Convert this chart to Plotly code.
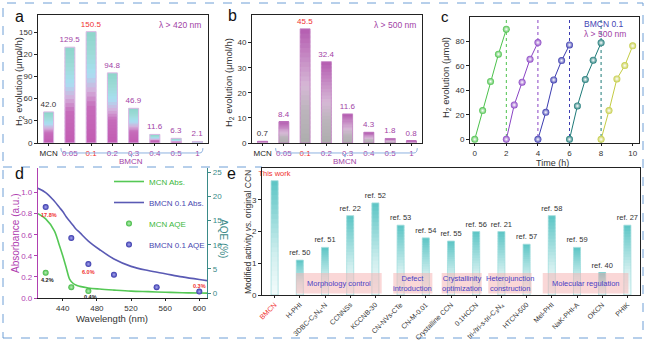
import plotly.graph_objects as go

W, H = 647, 342

# ---------------- data ----------------
cat_ab = ["MCN", "0.05", "0.1", "0.2", "0.3", "0.4", "0.5", "1"]
h2_420 = [42.0, 129.5, 150.5, 94.8, 46.9, 11.6, 6.3, 2.1]
h2_500 = [0.7, 8.4, 45.5, 32.4, 11.6, 4.3, 1.8, 0.8]

cyc_t = [[0, 0.5, 1, 1.5, 2], [2, 2.5, 3, 3.5, 4], [4, 4.5, 5, 5.5, 6],
         [6, 6.5, 7, 7.5, 8], [8, 8.5, 9, 9.5, 10]]
cyc_h2 = [[0, 23.5, 47.3, 69.6, 90.0], [0, 28.1, 46.7, 65.5, 79.1],
          [0, 22.1, 48.6, 64.4, 77.2], [0, 27.3, 48.9, 64.7, 78.9],
          [0, 23.5, 49.4, 60.3, 76.4]]
cyc_colors = ["#4cc24c", "#8a44c4", "#3c3cb0", "#1e7a78", "#c4cc44"]
cyc_ends = [2, 4, 6, 8]

wl_abs = [411, 420, 430, 436, 440, 444, 448, 452, 456, 460, 470, 483, 500, 520, 540, 560, 580, 600, 609]
abs_mcn = [0.80, 0.75, 0.64, 0.50, 0.40, 0.29, 0.18, 0.14, 0.12, 0.11, 0.095, 0.085, 0.075, 0.065, 0.060, 0.055, 0.050, 0.047, 0.046]
abs_bmcn = [1.04, 1.00, 0.92, 0.86, 0.82, 0.77, 0.73, 0.69, 0.65, 0.62, 0.54, 0.46, 0.37, 0.30, 0.26, 0.23, 0.20, 0.175, 0.165]

wl_aqe_mcn = [420, 450, 470]
aqe_mcn = [4.2, 1.2, 0.4]
wl_aqe_bmcn = [420, 450, 470, 500, 550, 600]
aqe_bmcn = [17.8, 11.4, 6.0, 3.8, 1.2, 0.3]

cat_e = ["BMCN", "H-PHI", "3DBC-C<sub>3</sub>N<sub>4</sub>-N", "CCNNSs", "KCCNB-30",
         "CN-NVs-CTe", "CN-M-0.01", "Crystalline CCN", "0.1HCCN",
         "tri-/tri-s-tri-C<sub>3</sub>N<sub>4</sub>", "HTCN-500", "Mel-PHI",
         "NaK-PHI-A", "OKCN", "PHIK"]
act_e = [3.6, 1.1, 1.5, 2.5, 2.9, 2.2, 1.8, 1.7, 2.0, 2.0, 1.6, 2.5, 1.5, 0.7, 2.2]
ref_e = ["This work", "ref. 50", "ref. 51", "ref. 22", "ref. 52", "ref. 53", "ref. 54",
         "ref. 55", "ref. 56", "ref. 21", "ref. 57", "ref. 58", "ref. 59", "ref. 40", "ref. 27"]
groups_e = [("Morphology control", 0.85, 4.25), ("Defect<br>introduction", 4.71, 6.26),
            ("Crystallinity<br>optimization", 6.63, 8.22), ("Heterojunction<br>construction", 8.48, 10.2),
            ("Molecular regulation", 10.64, 14.04)]

# ---------------- helpers ----------------
FONT = "Arial, Liberation Sans, sans-serif"
PURPLE = "#a23fa6"
RED = "#f03030"
DARK = "#333333"


def px_x(p):
    return p / W


def px_y(p):
    return 1 - p / H


def hex2rgb(h):
    h = h.lstrip("#")
    return tuple(int(h[i:i + 2], 16) for i in (0, 2, 4))


def grad_color(stops, t):
    for (t0, c0), (t1, c1) in zip(stops[:-1], stops[1:]):
        if t0 <= t <= t1:
            f = (t - t0) / (t1 - t0) if t1 > t0 else 0
            a, b = hex2rgb(c0), hex2rgb(c1)
            return "rgb(%d,%d,%d)" % tuple(round(a[i] + (b[i] - a[i]) * f) for i in range(3))
    return stops[-1][1]


NSEG = 24


def gradient_bars(fig, cats, vals, stops, xa, ya, width):
    for i in range(NSEG):
        t = (i + 0.5) / NSEG
        fig.add_trace(go.Bar(
            x=cats, y=[v / NSEG * 1.6 if i < NSEG - 1 else v / NSEG for v in vals],
            base=[v * i / NSEG for v in vals], width=width,
            marker=dict(color=grad_color(stops, t), line=dict(width=0)),
            xaxis=xa, yaxis=ya, showlegend=False, hoverinfo="skip"))


fig = go.Figure()

# ---------------- panel a ----------------
stops_a = [(0, "#c25cb2"), (0.33, "#c66cba"), (0.47, "#d4b0dc"), (0.62, "#a8dff2"),
           (0.8, "#9edbd8"), (1, "#8dd5cb")]
gradient_bars(fig, cat_ab, h2_420, stops_a, "x", "y", 0.47)
col_a = [DARK] + [PURPLE] * 7
col_a[2] = RED
fig.add_trace(go.Bar(x=cat_ab, y=h2_420, width=0.47, text=["%.1f" % v for v in h2_420],
                     textposition="outside", constraintext="none", cliponaxis=False,
                     textfont=dict(size=8, color=col_a, family=FONT),
                     marker=dict(color="rgba(0,0,0,0)", line=dict(color="#dcb8e4", width=1)),
                     xaxis="x", yaxis="y", showlegend=False))

# ---------------- panel b ----------------
stops_b = [(0, "#adadad"), (0.3, "#bdb5bd"), (0.5, "#d6b8d6"), (0.75, "#c68ac4"), (1, "#b45cb0")]
gradient_bars(fig, cat_ab, h2_500, stops_b, "x2", "y2", 0.47)
col_b = [DARK] + [PURPLE] * 7
col_b[2] = RED
fig.add_trace(go.Bar(x=cat_ab, y=h2_500, width=0.47, text=["%.1f" % v for v in h2_500],
                     textposition="outside", constraintext="none", cliponaxis=False,
                     textfont=dict(size=8, color=col_b, family=FONT),
                     marker=dict(color="rgba(0,0,0,0)", line=dict(color="#c483c4", width=0.8)),
                     xaxis="x2", yaxis="y2", showlegend=False))

tick_ab = ["<span style='color:#222'>MCN</span>"] + [
    "<span style='color:%s'>%s</span>" % (RED if c == "0.1" else PURPLE, c) for c in cat_ab[1:]]

# ---------------- panel c ----------------
for t, h, c in zip(cyc_t, cyc_h2, cyc_colors):
    fig.add_trace(go.Scatter(x=t, y=h, mode="lines+markers",
                             line=dict(color=c, width=1),
                             marker=dict(size=7, color=c, gradient=dict(type="radial", color="#ffffff"),
                                         line=dict(width=0)),
                             xaxis="x3", yaxis="y3", showlegend=False, cliponaxis=False))

# ---------------- panel d ----------------
fig.add_trace(go.Scatter(x=wl_abs, y=abs_mcn, mode="lines", line=dict(color="#55c855", width=1.6, shape="spline"),
                         name="<span style='color:#3cb83c'>MCN Abs.</span>", legendgroup="g1",
                         xaxis="x4", yaxis="y4"))
fig.add_trace(go.Scatter(x=wl_abs, y=abs_bmcn, mode="lines", line=dict(color="#5a5ab4", width=1.6, shape="spline"),
                         name="<span style='color:#4848b0'>BMCN 0.1 Abs.</span>", legendgroup="g2",
                         xaxis="x4", yaxis="y4"))
fig.add_trace(go.Scatter(x=wl_aqe_mcn, y=aqe_mcn, mode="markers",
                         marker=dict(size=6, color="#40b840", gradient=dict(type="radial", color="#b8f0b8")),
                         name="<span style='color:#3cb83c'>MCN AQE</span>", legendgroup="g3",
                         xaxis="x4", yaxis="y5", cliponaxis=False))
fig.add_trace(go.Scatter(x=wl_aqe_bmcn, y=aqe_bmcn, mode="markers",
                         marker=dict(size=6, color="#3434a8", gradient=dict(type="radial", color="#a8a8f0")),
                         name="<span style='color:#4848b0'>BMCN 0.1 AQE</span>", legendgroup="g4",
                         xaxis="x4", yaxis="y5", cliponaxis=False))

# ---------------- panel e ----------------
stops_e = [(0, "#f4fcfc"), (0.35, "#d2efef"), (1, "#5cc5c5")]
gradient_bars(fig, cat_e, act_e, stops_e, "x5", "y6", 0.28)
fig.add_trace(go.Bar(x=cat_e, y=act_e, width=0.28, text=ref_e,
                     textposition="outside", constraintext="none", cliponaxis=False,
                     textfont=dict(size=7.5, color=[RED] + [DARK] * 14, family=FONT),
                     marker=dict(color="rgba(0,0,0,0)", line=dict(color="#a6dede", width=0.8)),
                     xaxis="x5", yaxis="y6", showlegend=False))
tick_e = ["<span style='color:%s'>BMCN</span>" % RED] + cat_e[1:]

# ---------------- layout ----------------
dom_a = [px_x(38), px_x(208)]
dom_b = [px_x(252), px_x(422)]
dom_c = [px_x(470), px_x(639)]
dom_d = [px_x(38), px_x(207)]
dom_e = [px_x(262), px_x(640)]
ytop = [px_y(143), px_y(15)]
ytopc = [px_y(143), px_y(17)]
ybotd = [px_y(298), px_y(168)]
ybote = [px_y(295), px_y(168)]

axfont = dict(size=8, color=DARK, family=FONT)
common = dict(showline=True, linecolor="#222", linewidth=1, ticks="outside",
              tickcolor="#222", tickfont=axfont, showgrid=False, zeroline=False, automargin=False)

fig.update_layout(
    width=W, height=H, margin=dict(l=0, r=0, t=0, b=0, autoexpand=False),
    paper_bgcolor="white", plot_bgcolor="white", barmode="overlay",
    font=dict(family=FONT, size=8, color=DARK),
    xaxis=dict(domain=dom_a, anchor="y", type="category", tickvals=cat_ab, ticktext=tick_ab,
               mirror=True, ticklen=2, **common),
    yaxis=dict(domain=ytop, anchor="x", range=[0, 173], tickvals=[0, 30, 60, 90, 120, 150],
               mirror=True, ticklen=3, **common),
    xaxis2=dict(domain=dom_b, anchor="y2", type="category", tickvals=cat_ab, ticktext=tick_ab,
                mirror=True, ticklen=2, **common),
    yaxis2=dict(domain=ytop, anchor="x2", range=[0, 51], tickvals=[0, 10, 20, 30, 40],
                mirror=True, ticklen=3, **common),
    xaxis3=dict(domain=dom_c, anchor="y3", range=[-0.3, 10.4], tickvals=[0, 2, 4, 6, 8, 10],
                mirror=True, ticklen=2, **common),
    yaxis3=dict(domain=ytopc, anchor="x3", range=[-3, 100], tickvals=[0, 20, 40, 60, 80],
                mirror=True, ticklen=3, **common),
    xaxis4=dict(domain=dom_d, anchor="y4", range=[411, 609], tickvals=[440, 480, 520, 560, 600],
                ticklen=2, **common),
    yaxis4=dict(domain=ybotd, anchor="x4", range=[0, 1.233], tickvals=[0, 0.2, 0.4, 0.6, 0.8, 1.0],
                tickformat=".1f", showline=True, linecolor="#b040b0", linewidth=1.2, ticks="outside",
                ticklen=3, tickcolor="#b040b0", tickfont=dict(size=8, color="#b040b0", family=FONT),
                showgrid=False, zeroline=False, automargin=False),
    yaxis5=dict(anchor="x4", overlaying="y4", side="right", range=[-1.03, 25.9],
                tickvals=[0, 5, 10, 15, 20, 25], showline=True, linecolor="#3a8a88", linewidth=1.2,
                ticks="outside", ticklen=3, tickcolor="#3a8a88", automargin=False,
                tickfont=dict(size=8, color="#3a8a88", family=FONT), showgrid=False, zeroline=False),
    xaxis5=dict(domain=dom_e, anchor="y6", type="category", tickvals=cat_e, ticktext=tick_e,
                tickangle=-45, mirror=True, showline=True, linecolor="#222", linewidth=1,
                ticks="outside", ticklen=2, tickcolor="#222", automargin=False,
                tickfont=dict(size=7, color=DARK, family=FONT), showgrid=False, zeroline=False),
    yaxis6=dict(domain=ybote, anchor="x5", range=[0, 4.0], tickvals=[0, 1, 2, 3], mirror=True, ticklen=3,
                **common),
    legend=dict(x=px_x(109), y=px_y(167), xanchor="left", yanchor="top", bgcolor="rgba(0,0,0,0)",
                font=dict(size=8, family=FONT), tracegroupgap=2, itemwidth=30, traceorder="grouped"),
)

shapes = []
# dashed frame
dash = dict(color="#6f9fd6", width=1, dash="dash")
shapes.append(dict(type="rect", xref="paper", yref="paper", x0=px_x(3), x1=px_x(643),
                   y0=px_y(338), y1=px_y(3), line=dash, layer="below"))
shapes.append(dict(type="line", xref="paper", yref="paper", x0=px_x(3), x1=px_x(262),
                   y0=px_y(167), y1=px_y(167), line=dash, layer="below"))


def brace(xd, yd, x0, x1, xc):
    yt, yl, ytip = -0.04, -0.078, -0.11
    d = 0.02
    path = (f"M {x0},{yt} Q {x0},{yl} {x0 + d},{yl} L {xc - d},{yl} Q {xc},{yl} {xc},{ytip} "
            f"Q {xc},{yl} {xc + d},{yl} L {x1 - d},{yl} Q {x1},{yl} {x1},{yt}")
    return dict(type="path", xref=xd, yref=yd, path=path, line=dict(color="#8fb2e0", width=1))


shapes.append(brace("x domain", "y domain", 0.135, 0.97, 0.55))
shapes.append(brace("x2 domain", "y2 domain", 0.139, 0.972, 0.547))

# vertical dashed lines in c
for xe, c in zip(cyc_ends, cyc_colors):
    shapes.append(dict(type="line", xref="x3", yref="y3 domain", x0=xe, x1=xe, y0=0, y1=1,
                       line=dict(color=c, width=1, dash="dot"), layer="below"))

# category boxes in e
for name, g0, g1 in groups_e:
    shapes.append(dict(type="rect", xref="x5", yref="y6", x0=g0, x1=g1, y0=0.05, y1=0.69,
                       fillcolor="rgba(245,175,175,0.5)", line=dict(width=0), layer="above"))
fig.update_layout(shapes=shapes)

ann = []


def pa(text, x, y, size=8, color=DARK, **kw):
    ann.append(dict(text=text, x=px_x(x), y=px_y(y), xref="paper", yref="paper", showarrow=False,
                    xanchor="center", yanchor="middle",
                    font=dict(size=size, color=color, family=FONT), **kw))


# panel letters
pa("a", 19, 16, size=16, color="#111")
pa("b", 232, 15, size=16, color="#111")
pa("c", 445, 17, size=15, color="#111")
pa("d", 19, 173, size=16, color="#111")
pa("e", 231, 173, size=16, color="#111")
# axis titles
pa("H<sub>2</sub> evolution (μmol/h)", 19, 82, size=9.5, textangle=-90)
pa("H<sub>2</sub> evolution (μmol/h)", 229, 83, size=9.5, textangle=-90)
pa("H<sub>2</sub> evolution (μmol)", 446, 78, size=9.5, textangle=-90)
pa("Time (h)", 552, 162.5, size=9)
pa("Absorbance (a.u.)", 15, 233, size=10, color="#b040b0", textangle=-90)
pa("AQE (%)", 224, 238, size=10, color="#3a8a88", textangle=90)
pa("Wavelength (nm)", 112, 318, size=9.5)
pa("Modified activity <i>vs.</i> original CCN", 248, 232, size=8.5, textangle=-90)
# in-plot texts
pa("λ > 420 nm", 180, 25, size=8.5, color=PURPLE)
pa("λ > 500 nm", 395, 25, size=8.5, color=PURPLE)
pa("BMCN 0.1", 603, 24, size=8.5, color="#4444b4")
pa("λ > 500 nm", 605, 34, size=8.5, color=PURPLE)
pa("BMCN", 131, 161, size=8, color=PURPLE)
pa("BMCN", 345, 161, size=8, color=PURPLE)

# AQE percentage labels
for xv, yv, txt, col, dy in [(420, 17.8, "17.8%", RED, -8), (470, 6.0, "6.0%", RED, -8),
                             (600, 0.3, "0.3%", RED, 6)]:
    ann.append(dict(text="<b>%s</b>" % txt, x=xv, y=yv, xref="x4", yref="y5", showarrow=False,
                    yshift=dy, xshift=3 if xv == 420 else 0, font=dict(size=5.5, color=col, family=FONT)))
for xv, yv, txt, dy in [(420, 4.2, "4.2%", -7), (470, 0.4, "0.4%", -6)]:
    ann.append(dict(text="<b>%s</b>" % txt, x=xv, y=yv, xref="x4", yref="y5", showarrow=False,
                    yshift=dy, xshift=2, font=dict(size=5.5, color="#222", family=FONT)))

# group labels in e
for name, g0, g1 in groups_e:
    ann.append(dict(text=name, x=(g0 + g1) / 2, y=0.37, xref="x5", yref="y6", showarrow=False,
                    font=dict(size=7.5, color="#4a3fc4", family=FONT)))

fig.update_layout(annotations=ann)
fig.write_html("out.html", config={"displayModeBar": False},
               post_script="document.body.style.margin='0px';document.body.style.padding='0px';")
